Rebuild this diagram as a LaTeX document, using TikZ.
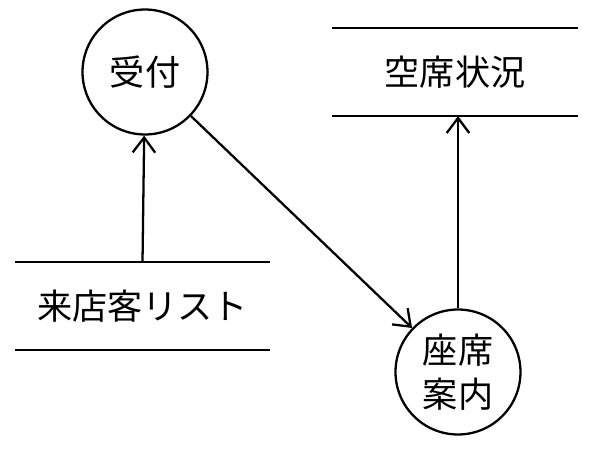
\documentclass[tikz,border=0pt]{standalone}
\usepackage{fontspec}
\setmainfont{Noto Sans CJK JP}
\usetikzlibrary{arrows.meta, positioning}

\tikzset{
    proc/.style={circle,draw=black,line width=1.3pt,minimum size=2.5cm,inner sep=0pt,align=center,font=\fontsize{20}{25}\selectfont},
    store/.style={rectangle,draw=none,minimum height=1.75cm,inner sep=0pt,font=\fontsize{20}{25}\selectfont},
    flow/.style={->,line width=1.3pt,>={Straight Barb[length=3mm,width=4.5mm]}}
}

\begin{document}
\begin{tikzpicture}[x=0.02cm,y=-0.02cm]
\useasboundingbox (0,0) rectangle (601,456);

\node (uketsuke) at (145,72) [proc] {受付};
\node (annai) at (458,372) [proc] {座席\\案内};

\node (kuuseki) at (455,72) [store,minimum width=4.92cm] {空席状況};
\node (raiten) at (142.5,306) [store,minimum width=5.1cm] {来店客リスト};

% data store lines
\draw[line width=1.3pt] (kuuseki.north west) -- (kuuseki.north east);
\draw[line width=1.3pt] (kuuseki.south west) -- (kuuseki.south east);
\draw[line width=1.3pt] (raiten.north west) -- (raiten.north east);
\draw[line width=1.3pt] (raiten.south west) -- (raiten.south east);

\draw[flow] (raiten.north) -- (uketsuke);
\draw[flow] (uketsuke) -- (annai);
\draw[flow] (annai) -- (annai |- kuuseki.south);
\end{tikzpicture}
\end{document}
